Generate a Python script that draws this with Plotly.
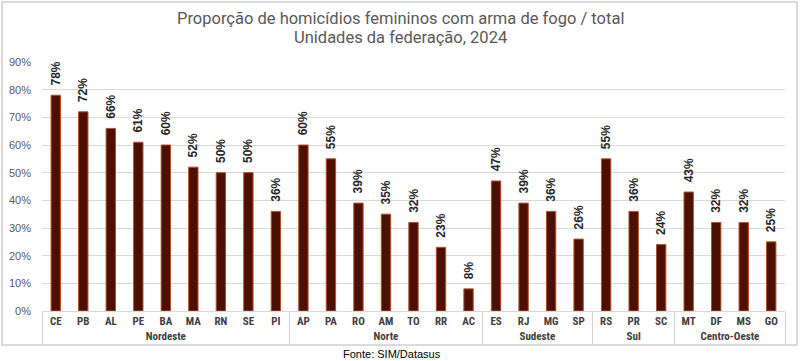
import plotly.graph_objects as go

regions = ["Nordeste"] * 9 + ["Norte"] * 7 + ["Sudeste"] * 4 + ["Sul"] * 3 + ["Centro-Oeste"] * 4
states = ["CE", "PB", "AL", "PE", "BA", "MA", "RN", "SE", "PI",
          "AP", "PA", "RO", "AM", "TO", "RR", "AC",
          "ES", "RJ", "MG", "SP",
          "RS", "PR", "SC",
          "MT", "DF", "MS", "GO"]
values = [0.78, 0.72, 0.66, 0.61, 0.60, 0.52, 0.50, 0.50, 0.36,
          0.60, 0.55, 0.39, 0.35, 0.32, 0.23, 0.08,
          0.47, 0.39, 0.36, 0.26,
          0.55, 0.36, 0.24,
          0.43, 0.32, 0.32, 0.25]
y_ticks = [0, 0.1, 0.2, 0.3, 0.4, 0.5, 0.6, 0.7, 0.8, 0.9]
title_lines = ["Proporção de homicídios femininos com arma de fogo / total",
               "Unidades da federação, 2024"]
source_text = "Fonte: SIM/Datasus"

fig = go.Figure(go.Bar(
    x=[regions, states],
    y=values,
    marker=dict(color="#4d1000", line=dict(color="#b0502a", width=1)),
    width=0.34,
    text=["\u00a0\u00a0" + f"{round(v*100)}%" for v in values],
    textposition="outside",
    textangle=-90,
    constraintext="none",
    cliponaxis=False,
    textfont=dict(family="Liberation Sans, Arial", size=12, color="#262626", weight="bold"),
))

def py(px):
    # pixel row -> paper y (plot area from 62 to 311)
    return (311 - px) / 249

def pxx(px):
    return (px - 42) / 743

fig.update_layout(
    template="none",
    width=800, height=361,
    margin=dict(l=42, r=15, t=62, b=50, autoexpand=False),
    paper_bgcolor="white", plot_bgcolor="white",
    showlegend=False,
    yaxis=dict(
        range=[0, 0.9], tickvals=y_ticks, tickformat=".0%",
        showgrid=True, gridcolor="#d9d9d9", gridwidth=1,
        zeroline=False, showline=False, automargin=False,
        color="#595959",
        tickfont=dict(family="Liberation Sans, Arial", size=11, color="#595959"),
        ticks="", ticklen=0, ticklabelstandoff=10,
    ),
    xaxis=dict(
        type="multicategory", automargin=False,
        showline=True, linecolor="#d9d9d9", linewidth=1,
        showdividers=True, dividercolor="#d0d0d0", dividerwidth=1,
        showgrid=False, zeroline=False,
        tickfont=dict(family="Roboto Condensed, Liberation Sans Narrow, Arial", size=11, color="#404040", weight="bold"),
        ticks="outside", ticklen=4, tickcolor="rgba(0,0,0,0)",
    ),
    shapes=[dict(type="rect", xref="paper", yref="paper",
                 x0=pxx(2), x1=pxx(797), y0=py(345), y1=py(2),
                 line=dict(color="#d0d0d0", width=1.5), fillcolor="rgba(0,0,0,0)")],
    annotations=[
        dict(text=title_lines[0], xref="paper", yref="paper", x=pxx(400), y=py(18),
             xanchor="center", yanchor="middle", showarrow=False,
             font=dict(family="Roboto, Open Sans", size=16.5, color="#595959")),
        dict(text=title_lines[1], xref="paper", yref="paper", x=pxx(400), y=py(38),
             xanchor="center", yanchor="middle", showarrow=False,
             font=dict(family="Roboto, Open Sans", size=16.5, color="#595959")),
        dict(text=source_text, xref="paper", yref="paper",
             x=pxx(392), y=py(354), xanchor="center", yanchor="middle",
             showarrow=False,
             font=dict(family="Liberation Sans, Arial", size=11, color="#000000")),
    ],
)

fig.write_html("out.html", config={"displayModeBar": False},
               post_script="document.body.style.margin='0';")
